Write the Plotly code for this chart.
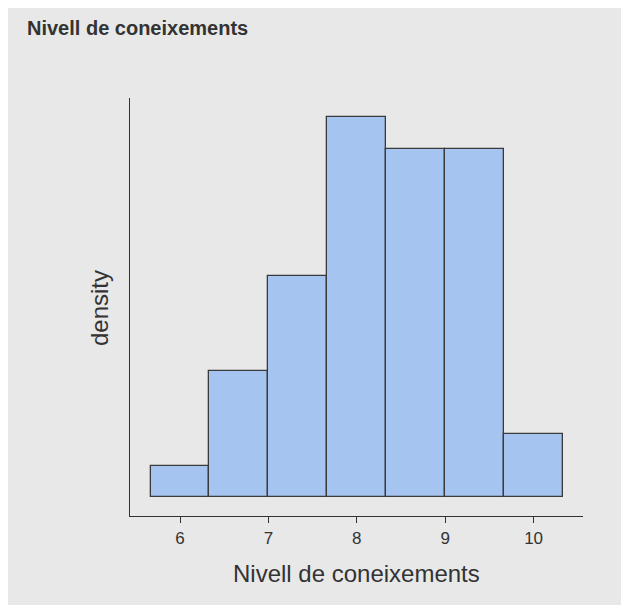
import plotly.graph_objects as go

# Data
bin_width = 0.6667
bin_centers = [6.0, 6.6667, 7.3333, 8.0, 8.6667, 9.3333, 10.0]
counts = [1, 4, 7, 12, 11, 11, 2]
x_ticks = [6, 7, 8, 9, 10]
x_tick_labels = ["6", "7", "8", "9", "10"]

total = sum(counts)
density = [c / (total * bin_width) for c in counts]

OFF = 8  # page body margin
W, H = 629 - OFF, 605 - OFF
L, T = 130 - OFF, 98 - OFF
R, B = 46, 89
pw, ph = W - L - R, H - T - B

def px_x(p):  # screen px -> paper
    return (p - OFF - L) / pw

def px_y(p):
    return (H - B - (p - OFF)) / ph

FONT = "Liberation Sans, Arial, Helvetica, sans-serif"
INK = "#333333"
BG = "#e8e8e8"

fig = go.Figure()
fig.add_trace(go.Bar(
    x=bin_centers, y=density, width=[bin_width] * len(bin_centers),
    marker=dict(color="#a5c4f0", line=dict(color="#3a3a3a", width=1.3)),
    hoverinfo="skip",
))

fig.update_layout(
    width=W, height=H,
    margin=dict(l=L, r=R, t=T, b=B),
    paper_bgcolor=BG,
    plot_bgcolor=BG,
    showlegend=False,
    bargap=0,
    font=dict(family=FONT, color=INK),
    title=dict(text="<b>Nivell de coneixements</b>", x=(27 - OFF) / W, xanchor="left",
               xref="container", yref="container", y=1 - (28 - OFF) / H, yanchor="middle",
               font=dict(size=20, color=INK, family=FONT)),
    annotations=[
        dict(text="Nivell de coneixements", xref="paper", yref="paper",
             x=px_x(356.5), y=px_y(573), xanchor="center", yanchor="middle",
             showarrow=False, font=dict(size=24, color=INK, family=FONT)),
        dict(text="density", xref="paper", yref="paper", textangle=-90,
             x=px_x(99), y=px_y(308), xanchor="center", yanchor="middle",
             showarrow=False, font=dict(size=24, color=INK, family=FONT)),
    ],
)

fig.update_xaxes(
    range=[5.434, 10.559], showgrid=False, zeroline=False,
    showline=True, linecolor=INK, linewidth=1.2,
    ticks="outside", ticklen=6, tickwidth=1.2, tickcolor=INK,
    tickvals=x_ticks, ticktext=x_tick_labels,
    tickfont=dict(size=17, color=INK, family=FONT),
)
fig.update_yaxes(
    range=[-0.01845, 0.394], showgrid=False, zeroline=False,
    showline=True, linecolor=INK, linewidth=1.2,
    ticks="", showticklabels=False,
)

fig.write_html("out.html")
